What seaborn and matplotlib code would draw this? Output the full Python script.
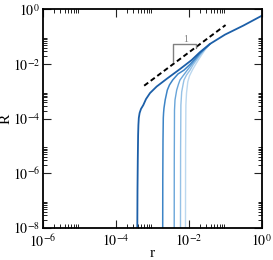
import numpy as np
import pandas as pd
import seaborn as sns
import matplotlib.pyplot as plt
from matplotlib.ticker import FixedLocator, FixedFormatter, NullFormatter

# curves, stored as log10 values
dark_logr = [-3.408, -3.403, -3.395, -3.386, -3.378, -3.367, -3.345, -3.307, -3.244,
             -3.170, -3.060, -2.877, -2.603, -2.238, -1.918, -1.690, -1.416, -1.005,
             -0.504, 0.0]
dark_logR = [-8.0, -6.61, -5.51, -4.60, -4.23, -3.97, -3.79, -3.64, -3.50,
             -3.28, -3.06, -2.82, -2.54, -2.18, -1.85, -1.56, -1.26, -0.92,
             -0.59, -0.23]

c2_logr = [-2.712, -2.710, -2.704, -2.696, -2.688, -2.677, -2.644, -2.586, -2.526,
           -2.438, -2.293, -2.129, -1.964, -1.827, -1.690, -1.553, -1.416]
c2_logR = [-8.0, -6.24, -4.78, -3.97, -3.78, -3.61, -3.31, -2.95, -2.76,
           -2.58, -2.36, -2.22, -2.01, -1.81, -1.59, -1.43, -1.26]

c3_logr = [-2.397, -2.395, -2.389, -2.375, -2.329, -2.279, -2.238, -2.156, -2.038,
           -1.910, -1.800, -1.690, -1.553, -1.416]
c3_logR = [-8.0, -5.51, -3.68, -3.31, -2.95, -2.73, -2.58, -2.43, -2.22,
           -2.00, -1.81, -1.63, -1.43, -1.26]

c4_logr = [-2.225, -2.222, -2.214, -2.192, -2.156, -2.129, -2.060, -1.964, -1.882,
           -1.786, -1.690, -1.553, -1.416]
c4_logR = [-8.0, -5.14, -3.50, -3.02, -2.76, -2.58, -2.40, -2.22, -2.03,
           -1.85, -1.67, -1.45, -1.26]

c5_logr = [-2.088, -2.085, -2.077, -2.060, -2.025, -1.978, -1.901, -1.819, -1.737,
           -1.655, -1.553, -1.416]
c5_logR = [-8.0, -5.14, -3.50, -3.06, -2.65, -2.43, -2.22, -2.03, -1.85,
           -1.68, -1.48, -1.26]

# slope guide
guide_r = [10 ** -3.22, 10 ** -0.99]
guide_R = [10 ** -2.79, 10 ** -0.57]
bracket_r = [3.65e-3, 3.65e-3, 1.58e-2, 1.58e-2]
bracket_R = [0.0123, 0.0532, 0.0532, 0.0399]

x_major = [1e-6, 1e-4, 1e-2, 1e0]
x_labels = ['$10^{-6}$', '$10^{-4}$', '$10^{-2}$', '$10^{0}$']
y_major = [1e-8, 1e-6, 1e-4, 1e-2, 1e0]
y_labels = ['$10^{-8}$', '$10^{-6}$', '$10^{-4}$', '$10^{-2}$', '$10^{0}$']

curves = [
    ('c5', c5_logr, c5_logR, '#bcd8ef', 1.0),
    ('c4', c4_logr, c4_logR, '#95c1e6', 1.0),
    ('c3', c3_logr, c3_logR, '#69a5d9', 1.0),
    ('c2', c2_logr, c2_logR, '#3d84c6', 1.1),
    ('dark', dark_logr, dark_logR, '#1c5fa8', 1.3),
]

sns.set_style('ticks')
plt.rcParams['font.family'] = ['Liberation Serif', 'DejaVu Serif']
plt.rcParams['mathtext.fontset'] = 'stix'

fig = plt.figure(figsize=(2.73, 2.60), dpi=100)
ax = fig.add_axes([0.1564, 0.1231, 0.8022, 0.8404])

for name, lr, lR, col, lw in curves:
    df = pd.DataFrame({'r': np.power(10.0, lr), 'R': np.power(10.0, lR)})
    sns.lineplot(data=df, x='r', y='R', sort=False, estimator=None,
                 color=col, linewidth=lw, ax=ax)

ax.plot(guide_r, guide_R, color='black', linewidth=1.4, dashes=(2.6, 1.6))
ax.plot(bracket_r, bracket_R, color='#808080', linewidth=1.0)
ax.text(8.4e-3, 0.055, '1', color='#808080', fontsize=7, ha='center', va='bottom')

ax.set_xscale('log')
ax.set_yscale('log')
ax.set_xlim(1e-6, 1)
ax.set_ylim(1e-8, 1)

ax.xaxis.set_major_locator(FixedLocator(x_major))
ax.xaxis.set_major_formatter(FixedFormatter(x_labels))
ax.yaxis.set_major_locator(FixedLocator(y_major))
ax.yaxis.set_major_formatter(FixedFormatter(y_labels))
x_minor = [k * 10.0 ** m for m in (-6, -4, -2) for k in range(2, 10)]
y_minor = [k * 10.0 ** m for m in (-8, -6, -4, -2) for k in range(2, 10)]
ax.xaxis.set_minor_locator(FixedLocator(x_minor))
ax.yaxis.set_minor_locator(FixedLocator(y_minor))
ax.xaxis.set_minor_formatter(NullFormatter())
ax.yaxis.set_minor_formatter(NullFormatter())

ax.tick_params(which='both', direction='in', top=True, right=True,
               color='#222222', labelcolor='black', labelsize=10)
ax.tick_params(axis='x', which='major', pad=3.5)
ax.tick_params(axis='y', which='major', pad=2)
ax.tick_params(which='major', length=5.5, width=0.8)
ax.tick_params(which='minor', length=2.8, width=0.7)
for s in ax.spines.values():
    s.set_linewidth(1.3)
    s.set_color('black')

ax.set_xlabel('r', fontsize=11, color='black')
ax.set_ylabel('R', fontsize=11, color='black')
ax.xaxis.set_label_coords(0.5, -0.085)
ax.yaxis.set_label_coords(-0.14, 0.5)

fig.savefig('out.png', dpi=100)
